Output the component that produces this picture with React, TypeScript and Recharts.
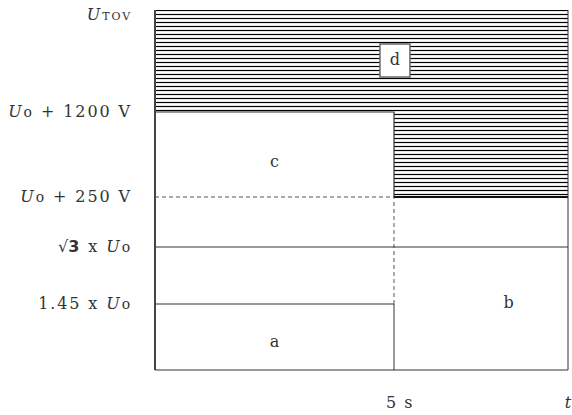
import {
  Area,
  ComposedChart,
  Line,
  ReferenceDot,
  ReferenceLine,
  XAxis,
  YAxis,
} from "recharts";

// schematic level heights (chart units, not to scale)
const levelLabels = ["1.45 x Uo", "√3 x Uo", "Uo + 250 V", "Uo + 1200 V", "UTOV"];
const levelValues = [66, 123, 173, 258, 360];
const [L145, LSQ3, L250, L1200, LTOV] = levelValues;

const T_END = 8.64;
const timeTicks = [5, T_END];
const timeLabels = ["5 s", "t"];

// lower edge of region d (step at 5 s)
const stepTimes = [0, 5, T_END];
const dLower = [L1200, L250, L250];

const regionNames = ["a", "b", "c", "d"];
const regionTimes = [2.5, 7.4, 2.5, 5.02];
const regionLevels = [28, 67, 208, 310];

const data = stepTimes.map((t, i) => ({ t, d: [dLower[i], LTOV], edge: dLower[i] }));

const SERIF = "'DejaVu Serif', 'Liberation Serif', serif";
const INK = "#333";

function richLabel(s: string) {
  // italic U followed by small subscript-ish text, √ with bold 3
  const parts: any[] = [];
  const re = /U(TOV|o)|√3|[^U√]+/g;
  let m: RegExpExecArray | null;
  let k = 0;
  while ((m = re.exec(s))) {
    if (m[0].startsWith("U")) {
      parts.push(
        <tspan key={k++} fontStyle="italic">U</tspan>,
        <tspan key={k++} fontSize={m[1] === "TOV" ? 11 : 14}>{m[1]}</tspan>
      );
    } else if (m[0] === "√3") {
      parts.push(
        <tspan key={k++} letterSpacing={0}>√</tspan>,
        <tspan key={k++} fontWeight="bold" fontFamily="'DejaVu Sans', sans-serif">3</tspan>
      );
    } else {
      parts.push(<tspan key={k++}>{m[0]}</tspan>);
    }
  }
  return parts;
}

const YTick = (props: any) => {
  const { x, y, payload } = props;
  const i = levelValues.indexOf(payload.value);
  if (i < 0) return null;
  const dy = i === levelValues.length - 1 ? 10 : 5;
  return (
    <text
      x={x - 15}
      y={y + dy}
      textAnchor="end"
      fill={INK}
      fontFamily={SERIF}
      fontSize={16}
      letterSpacing={1.9}
      style={{ whiteSpace: "pre" }}
    >
      {richLabel(levelLabels[i])}
    </text>
  );
};

const XTick = (props: any) => {
  const { x, y, payload } = props;
  const i = timeTicks.indexOf(payload.value);
  if (i < 0) return null;
  const last = i === timeTicks.length - 1;
  return (
    <text
      x={last ? x + 10 : x + 6}
      y={y + 30}
      textAnchor="middle"
      fill={INK}
      fontFamily={SERIF}
      fontSize={16}
      letterSpacing={last ? 0 : 1.5}
      fontStyle={last ? "italic" : "normal"}
      style={{ whiteSpace: "pre" }}
    >
      {timeLabels[i]}
    </text>
  );
};

const RegionMark = (name: string) => (p: any) => {
  const { cx, cy } = p;
  return (
    <g>
      {name === "d" && (
        <rect x={cx - 15} y={cy - 16} width={30} height={33} fill="#fff" stroke="#666" strokeWidth={1.5} />
      )}
      <text x={cx} y={cy + 5} textAnchor="middle" fill={INK} fontFamily={SERIF} fontSize={16}>
        {name}
      </text>
    </g>
  );
};

export default function App() {
  return (
    <div style={{ position: "absolute", left: 0, top: 0, background: "#fff" }}>
      <ComposedChart width={572} height={415} data={data} margin={{ top: 10, right: 4, bottom: 0, left: 0 }}>
        <defs>
          <pattern id="hatch" patternUnits="userSpaceOnUse" width={8} height={4}>
            <rect width={8} height={4} fill="#fff" />
            <line x1={0} y1={2.5} x2={8} y2={2.5} stroke="#000" strokeWidth={1.2} />
          </pattern>
        </defs>
        <XAxis
          type="number"
          dataKey="t"
          domain={[0, T_END]}
          ticks={timeTicks}
          tick={XTick}
          tickLine={false}
          axisLine={{ stroke: INK }}
          height={45}
          allowDataOverflow
        />
        <YAxis
          type="number"
          domain={[0, LTOV]}
          ticks={levelValues}
          interval={0}
          tick={YTick}
          tickLine={false}
          axisLine={{ stroke: "#444", strokeWidth: 2 }}
          width={155}
          allowDataOverflow
        />
        <Area
          dataKey="d"
          type="stepAfter"
          fill="url(#hatch)"
          fillOpacity={1}
          stroke="none"
          isAnimationActive={false}
        />
        <Line dataKey="edge" type="stepAfter" stroke={INK} strokeWidth={1.2} dot={false} isAnimationActive={false} />
        <ReferenceLine segment={[{ x: 5, y: L250 }, { x: T_END, y: L250 }]} stroke="#111" strokeWidth={2} />
        <ReferenceLine segment={[{ x: 0, y: L250 }, { x: 5, y: L250 }]} stroke="#555" strokeDasharray="4 3" />
        <ReferenceLine segment={[{ x: 5, y: L145 }, { x: 5, y: L250 }]} stroke="#555" strokeDasharray="4 3" />
        <ReferenceLine segment={[{ x: 5, y: 0 }, { x: 5, y: L145 }]} stroke={INK} />
        <ReferenceLine segment={[{ x: 0, y: LSQ3 }, { x: T_END, y: LSQ3 }]} stroke={INK} />
        <ReferenceLine segment={[{ x: 0, y: L145 }, { x: 5, y: L145 }]} stroke={INK} />
        <ReferenceLine segment={[{ x: T_END, y: 0 }, { x: T_END, y: LTOV }]} stroke={INK} />
        {regionNames.map((n, i) => (
          <ReferenceDot
            key={n}
            x={regionTimes[i]}
            y={regionLevels[i]}
            r={0}
            shape={RegionMark(n)}
          />
        ))}
      </ComposedChart>
    </div>
  );
}
